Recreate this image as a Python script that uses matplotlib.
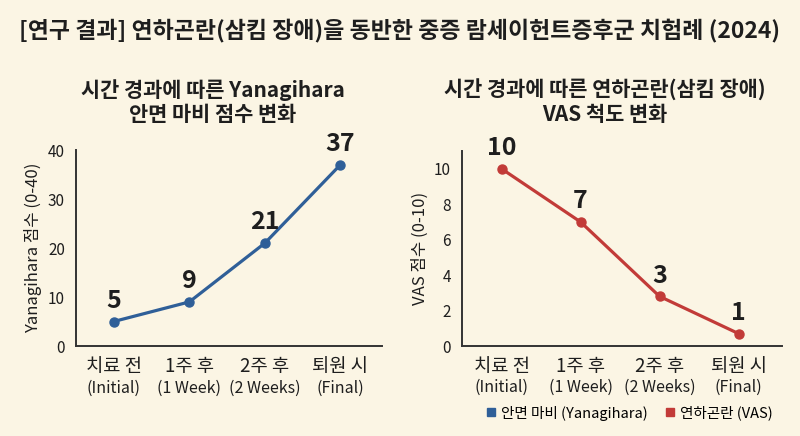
import matplotlib
matplotlib.use("Agg")
import matplotlib.pyplot as plt
from matplotlib.lines import Line2D

FONT = ['Noto Sans CJK KR', 'DejaVu Sans']
plt.rcParams['font.family'] = FONT

BG = '#FBF5E4'
BLUE = '#2F5F98'
RED = '#C23B38'
DARK = '#1E1E1E'

title = '[연구 결과] 연하곤란(삼킴 장애)을 동반한 중증 람세이헌트증후군 치험례 (2024)'
cat_ko = ['치료 전', '1주 후', '2주 후', '퇴원 시']
cat_en = ['(Initial)', '(1 Week)', '(2 Weeks)', '(Final)']

yan_values = [5, 9, 21, 37]
yan_labels = ['5', '9', '21', '37']
vas_values = [10, 7, 2.8, 0.7]
vas_labels = ['10', '7', '3', '1']

left_title = '시간 경과에 따른 Yanagihara\n안면 마비 점수 변화'
right_title = '시간 경과에 따른 연하곤란(삼킴 장애)\nVAS 척도 변화'
left_ylabel = 'Yanagihara 점수 (0-40)'
right_ylabel = 'VAS 점수 (0-10)'
left_yticks = [0, 10, 20, 30, 40]
right_yticks = [0, 2, 4, 6, 8, 10]
legend_labels = ['안면 마비 (Yanagihara)', '연하곤란 (VAS)']

fig = plt.figure(figsize=(8, 4.36), dpi=100, facecolor=BG)
fig.text(0.5, 1 - 30 / 436, title, ha='center', va='center', fontsize=16.5,
         fontweight='bold', color=DARK)

def panel(rect, values, labels, color, yticks, ylim, ylabel, ttl, title_x):
    ax = fig.add_axes(rect)
    ax.set_facecolor(BG)
    x = list(range(len(values)))
    ax.plot(x, values, color=color, lw=2.3, marker='o', ms=6.5, zorder=3)
    span = ylim[1] - ylim[0]
    for xi, v, lab in zip(x, values, labels):
        ax.text(xi, v + span * 0.045, lab, ha='center', va='bottom',
                fontsize=18, fontweight='bold', color=DARK)
    ax.set_xlim(-0.5, 3.55)
    ax.set_ylim(*ylim)
    ax.set_yticks(yticks)
    ax.tick_params(axis='y', length=0, labelsize=11, colors=DARK, pad=8)
    ax.tick_params(axis='x', length=0)
    ax.set_xticks(x)
    ax.set_xticklabels([''] * len(x))
    for xi, ko, en in zip(x, cat_ko, cat_en):
        ax.text(xi, -0.107, ko, transform=ax.get_xaxis_transform(), ha='center',
                va='center', fontsize=13.5, fontweight='medium', color=DARK)
        ax.text(xi, -0.214, en, transform=ax.get_xaxis_transform(), ha='center',
                va='center', fontsize=11.5, color=DARK)
    ax.set_ylabel(ylabel, fontsize=12, color=DARK, labelpad=4)
    for s in ['top', 'right']:
        ax.spines[s].set_visible(False)
    for s in ['left', 'bottom']:
        ax.spines[s].set_color('#333333')
        ax.spines[s].set_linewidth(1.4)
    fig.text(title_x, 1 - 102 / 436, ttl, ha='center', va='center', fontsize=15,
             fontweight='bold', color=DARK, linespacing=1.2)
    return ax

panel([76 / 800, 1 - 346 / 436, 306 / 800, 196 / 436], yan_values, yan_labels, BLUE,
      left_yticks, (0, 40), left_ylabel, left_title, 213 / 800)
panel([462 / 800, 1 - 346 / 436, 320 / 800, 195 / 436], vas_values, vas_labels, RED,
      right_yticks, (0, 11), right_ylabel, right_title, 605 / 800)

handles = [Line2D([], [], marker='s', ls='', color=BLUE, ms=6),
           Line2D([], [], marker='s', ls='', color=RED, ms=6)]
fig.legend(handles, legend_labels, loc='center', bbox_to_anchor=(628 / 800, 1 - 413 / 436),
           ncol=2, frameon=False, fontsize=10.5, handletextpad=0.2, columnspacing=1.0,
           handlelength=1.0)

fig.savefig('out.png', dpi=100, facecolor=BG)
